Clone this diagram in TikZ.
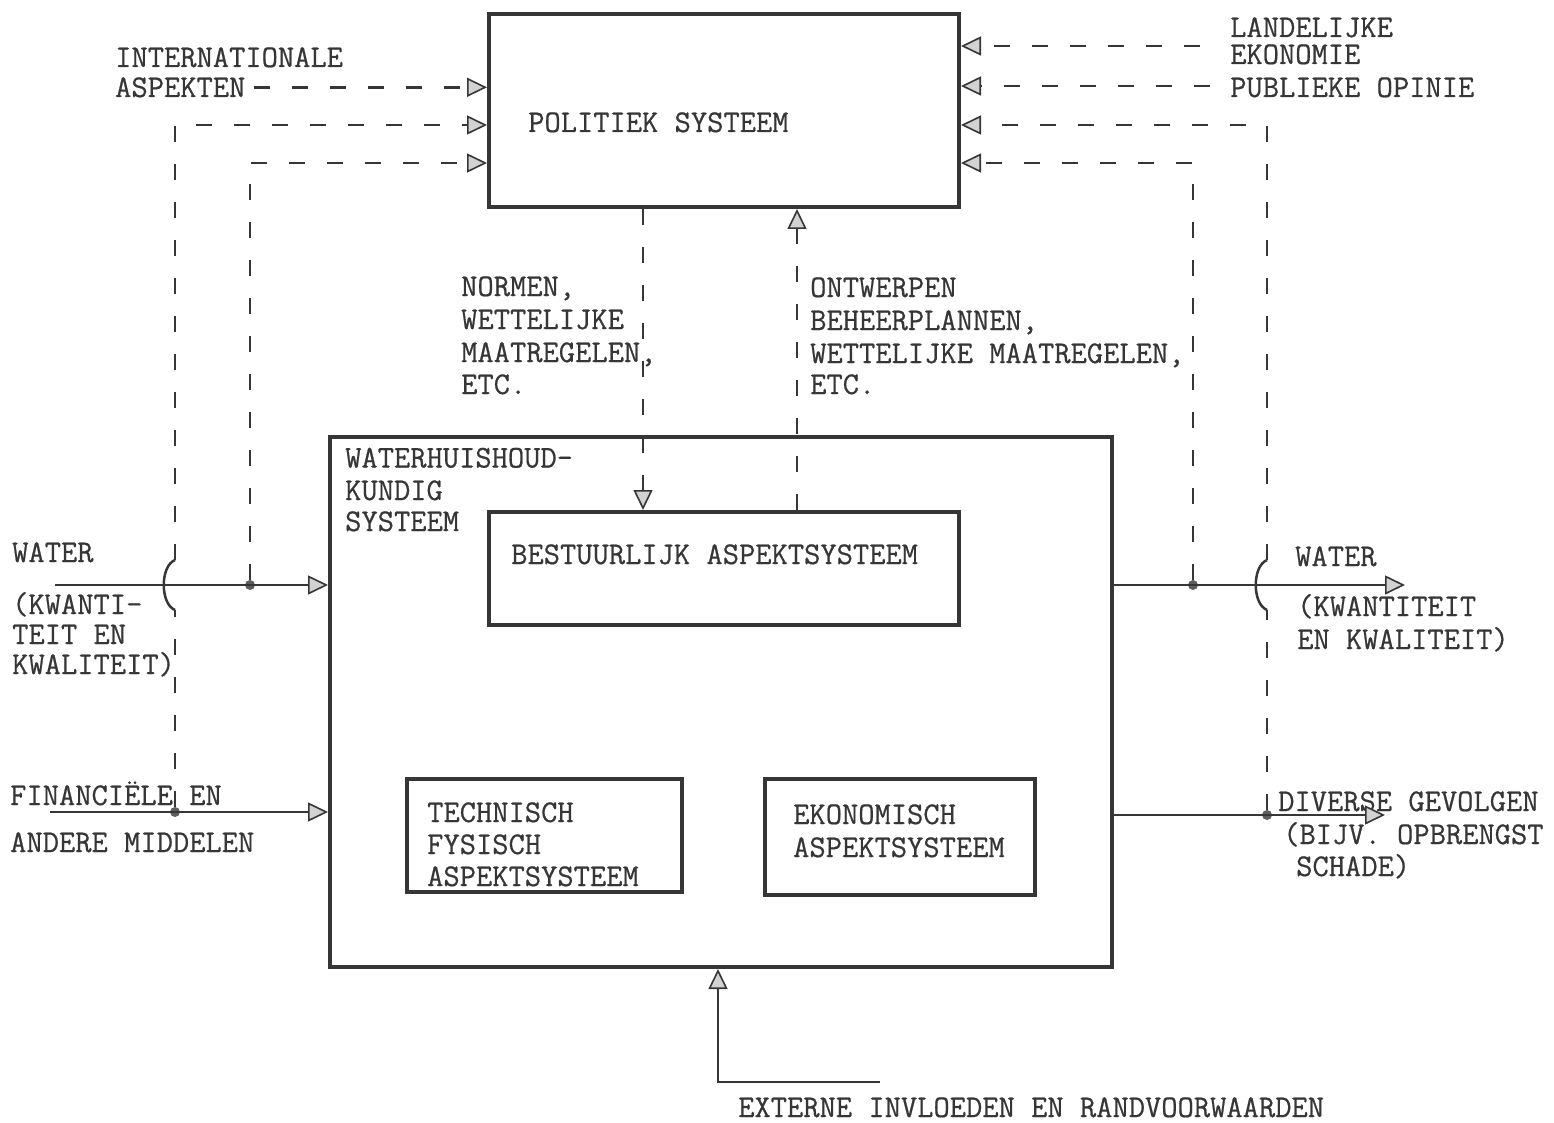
\documentclass[tikz,border=0pt]{standalone}
\usepackage{fontspec}
\newfontfamily\typew{Latin Modern Mono}[FakeBold=0.6]
\usetikzlibrary{arrows.meta}
\definecolor{ink}{HTML}{363636}
\begin{document}
\begin{tikzpicture}[x=1pt,y=-1pt,
  font=\typew\fontsize{31.6}{33}\selectfont,
  every node/.style={text=ink},
  lbl/.style={inner sep=0pt, anchor=base west, align=left},
  box/.style={draw=ink, line width=4pt, anchor=north west, inner sep=0pt},
  flow/.style={draw=ink, line width=2.5pt},
  dsh/.style={draw=ink, line width=2.5pt, dash pattern=on 16pt off 22pt},
  tip/.style={-{Triangle[length=20pt,width=19pt,fill=gray!35,line width=1.6pt]}},
  jdot/.style={circle, fill=ink!80, inner sep=0pt, minimum size=10pt}]
\useasboundingbox (0,0) rectangle (1554,1123);

% boxes
\node[box, minimum width=470pt, minimum height=193pt] (pol) at (487,12) {};
\node[box, minimum width=782pt, minimum height=530pt] (whs) at (328,435) {};
\node[box, minimum width=470pt, minimum height=113pt] (bes) at (487,510) {};
\node[box, minimum width=275pt, minimum height=113pt] (tec) at (405,777) {};
\node[box, minimum width=270pt, minimum height=116pt] (eko) at (763,777) {};

% texts (multi-line nodes: anchor at baseline of last line)
\node[lbl] (tpol) at (528,132) {POLITIEK SYSTEEM};
\node[lbl] (twhs) at (345,531) {WATERHUISHOUD-\\[-0.5pt]KUNDIG\\[-2pt]SYSTEEM};
\node[lbl] (tbes) at (511,564) {BESTUURLIJK ASPEKTSYSTEEM};
\node[lbl] (ttec) at (427,886) {TECHNISCH\\[-1pt]FYSISCH\\[-1pt]ASPEKTSYSTEEM};
\node[lbl] (teko) at (793,857) {EKONOMISCH\\ASPEKTSYSTEEM};
\node[lbl] (tint) at (115,67) {INTERNATIONALE};
\node[lbl] (tasp) at (115,97) {ASPEKTEN};
\node[lbl] (tlan) at (1230,64) {LANDELIJKE\\[-6pt]EKONOMIE};
\node[lbl] (tpub) at (1230,97) {PUBLIEKE OPINIE};
\node[lbl] (tnor) at (461,394) {NORMEN,\\WETTELIJKE\\MAATREGELEN,\\[-1pt]ETC.};
\node[lbl] (tont) at (810,394) {ONTWERPEN\\BEHEERPLANNEN,\\WETTELIJKE MAATREGELEN,\\[-2pt]ETC.};
\node[lbl] (twl) at (12,562) {WATER};
\node[lbl] (twl2) at (12,674) {(KWANTI-\\[-3pt]TEIT EN\\[-3pt]KWALITEIT)};
\node[lbl] (tfin) at (10,805) {FINANCIËLE EN};
\node[lbl] (tand) at (10,852) {ANDERE MIDDELEN};
\node[lbl] (twr) at (1295,566) {WATER};
\node[lbl] (twr2) at (1297,649) {(KWANTITEIT\\EN KWALITEIT)};
\node[lbl] (tdiv) at (1278,811) {DIVERSE GEVOLGEN};
\node[lbl] (tdiv2) at (1283,876) {(BIJV. OPBRENGST\\[-1pt]\hspace*{13pt}SCHADE)};
\node[lbl] (text) at (738,1117) {EXTERNE INVLOEDEN EN RANDVOORWAARDEN};

% coordinates
\coordinate (wlS) at (55,585);
\coordinate (finS) at (50,812);
\coordinate (wrE) at (1405,585);
\coordinate (divE) at (1385,815);
\coordinate (extS) at (880,1082);
\coordinate (extC) at (718,1082);
\coordinate (lanE) at (1200,46);
\coordinate (pubE) at (1210,86);

% junction dots
\node[jdot] (jwl) at (250,585) {};
\node[jdot] (jfin) at (175,812) {};
\node[jdot] (jwr) at (1193,585) {};
\node[jdot] (jdiv) at (1267,815) {};

% solid flows
\draw[flow, tip] (wlS) -- (wlS -| whs.west);
\draw[flow, tip] (finS) -- (finS -| whs.west);
\draw[flow, tip] (wlS -| whs.east) -- (wrE);
\draw[flow, tip] (divE -| whs.east) -- (divE);
\draw[flow, tip] (extS) -- (extC) -- (extC |- whs.south);

% dashed feedback, left
\draw[dsh, tip] (tasp.east) ++(8,0) -- (tasp.east -| pol.west);
\draw[dsh, tip] (jwl) -- (250,163) -- (250,163 -| pol.west);
\draw[dsh] (jfin) -- (175,610);
\draw[flow] (175,610) .. controls (160,604) and (160,566) .. (175,560);
\draw[dsh, tip] (175,560) -- (175,125) -- (175,125 -| pol.west);

% dashed feedback, right
\draw[dsh, tip] (lanE) -- (lanE -| pol.east);
\draw[dsh, tip] (pubE) -- (pubE -| pol.east);
\draw[dsh, tip] (jwr) -- (1193,163) -- (1193,163 -| pol.east);
\draw[dsh] (jdiv) -- (1267,610);
\draw[flow] (1267,610) .. controls (1252,604) and (1252,566) .. (1267,560);
\draw[dsh, tip] (1267,560) -- (1267,125) -- (1267,125 -| pol.east);

% central dashed
\draw[dsh, tip] (643,0 |- pol.south) -- (643,0 |- bes.north);
\draw[dsh, tip] (797,0 |- bes.north) -- (797,0 |- pol.south);
\end{tikzpicture}
\end{document}
